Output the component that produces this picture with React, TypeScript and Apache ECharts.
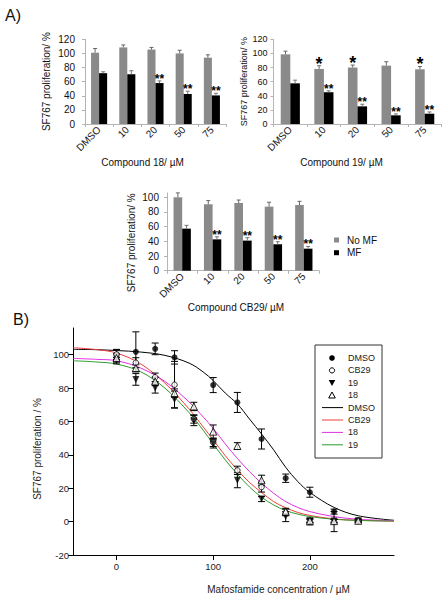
import React, { useEffect, useRef } from 'react';
import * as echarts from 'echarts';

// ---------- Panel A: bar charts ----------
const categories = ['DMSO', '10', '20', '50', '75'];

const c18NoMF = [101, 108.5, 105.5, 100, 94];
const c18NoMFErr = [6, 3.5, 3, 4.5, 4];
const c18MF = [72, 70.5, 58, 42.5, 40.5];
const c18MFErr = [2, 5, 3, 4, 3];
const c18NoMFSig = ['', '', '', '', ''];
const c18MFSig = ['', '', '**', '**', '**'];

const c19NoMF = [98.7, 78, 80, 82.7, 77.5];
const c19NoMFErr = [4.5, 4.5, 3.5, 5.5, 4];
const c19MF = [57.6, 45, 25, 12.3, 14.6];
const c19MFErr = [4.5, 2, 3, 2, 2.5];
const c19NoMFSig = ['', '*', '*', '', '*'];
const c19MFSig = ['', '**', '**', '**', '**'];

const cb29NoMF = [100, 90.5, 92.3, 87.3, 89.5];
const cb29NoMFErr = [6, 5, 4, 6, 5];
const cb29MF = [57.3, 42.7, 41, 36, 30];
const cb29MFErr = [4.5, 3.5, 4, 3.5, 3];
const cb29NoMFSig = ['', '', '', '', ''];
const cb29MFSig = ['', '**', '**', '**', '**'];

const barTicksA = [0, 20, 40, 60, 80, 100, 120];
const barTicksA3 = [0, 20, 40, 60, 80, 100];

// ---------- Panel B: dose response ----------
const doseDMSO = [0, 20, 40, 60, 100, 125, 150, 175, 200, 225, 250];
const viabDMSO = [100, 101.7, 103.5, 98.4, 81.8, 71.4, 49.5, 26, 17.6, 6, 0.6];
const errDMSO = [3, 12, 3.5, 4, 4.5, 6, 6, 2.5, 3, 1.5, 1];

const dose = [0, 20, 40, 60, 80, 100, 125, 150, 175, 200, 225, 250];
const viabCB29 = [100.2, 95.2, 86.5, 82, 61.5, 47.5, 30.7, 20.7, 5.5, 0, 0, 0.5];
const errCB29 = [3, 3, 2.5, 14, 2.5, 2.5, 2.5, 3, 2, 2, 6, 1];
const viab19 = [96.5, 85.2, 80, 73.2, 60.5, 46.6, 24.8, 13.5, 3, 0.5, 0.3, 0.5];
const err19 = [2, 3.5, 3, 5, 3, 2.5, 4.5, 1.5, 3, 1, 1, 0.5];
const viab18 = [98, 92, 84, 77, 69, 53.9, 45.3, 24.8, 6, 0.5, 0.3, 0.5];
const err18 = [2.5, 2, 2.5, 2.5, 2.5, 4, 2, 3, 2, 1, 1, 0.5];

// fitted curves
const fitDose = [-45, -20, 0, 25, 50, 75, 90, 100, 112.5, 125, 137.5, 150, 162.5, 175, 187.5, 200, 225, 250, 287];
const fitDMSO = [103.2, 103, 102.5, 101.6, 99.6, 95, 89.5, 84.5, 77, 70.5, 61.5, 52.5, 43, 32.5, 24, 17.5, 8.5, 3.5, 0.8];
const fitCB29 = [104.2, 103, 101, 94.5, 83, 67.5, 56.5, 49, 39.5, 31, 23.5, 17.5, 12, 8.3, 5.5, 3.7, 1.6, 0.8, 0.3];
const fit18 = [97.8, 97.2, 96.4, 92, 84, 71.7, 62.5, 55.9, 46.5, 37.9, 30, 23, 17, 12, 8.5, 6, 3, 1.4, 0.6];
const fit19 = [96.4, 95.6, 94.4, 89.8, 80, 65.3, 54.5, 46.5, 37, 28.4, 20.8, 14.6, 10, 6.6, 4.5, 3, 1.4, 0.7, 0.3];

const doseTicks = [0, 100, 200];
const viabTicks = [-20, 0, 20, 40, 60, 80, 100];
const legendLabelsB = ['DMSO', 'CB29', '19', '18', 'DMSO', 'CB29', '18', '19'];

const FONT = '"Liberation Sans", Arial, Helvetica, sans-serif';
const GAP = 0.43;
const GRAY = '#8a8a8a';
const AXIS_GRAY = '#b4b4b4';
const LABEL_ROTATE = 45;

function barErrSeries(vals: number[], errs: number[], sigs: string[], side: number, gi: number, color: string, sigSize: number) {
  return {
    type: 'custom',
    xAxisIndex: gi,
    yAxisIndex: gi,
    z: 5,
    silent: true,
    encode: { x: 0, y: 1 },
    data: vals.map((v, i) => [i, v, errs[i]]),
    renderItem: (params: any, api: any) => {
      const i = api.value(0);
      const v = api.value(1);
      const e = api.value(2);
      const base = api.coord([i, v]);
      const top = api.coord([i, v + e]);
      const band = api.size([1, 0])[0];
      const bw = (band * (1 - GAP)) / 2;
      const x = base[0] + (side * bw) / 2;
      const children: any[] = [
        { type: 'line', shape: { x1: x, y1: base[1], x2: x, y2: top[1] }, style: { stroke: color, lineWidth: 1 } },
        { type: 'line', shape: { x1: x - 2, y1: top[1], x2: x + 2, y2: top[1] }, style: { stroke: color, lineWidth: 1 } },
      ];
      const s = sigs[params.dataIndex];
      if (s) {
        children.push({
          type: 'text',
          x: x,
          y: top[1] - 2,
          style: {
            text: s,
            fontSize: sigSize,
            fontWeight: 'bold',
            fontFamily: FONT,
            fill: '#000',
            align: 'center',
            verticalAlign: 'middle',
          },
        });
      }
      return { type: 'group', children };
    },
  };
}

function barSeries(name: string, vals: number[], gi: number, color: string) {
  return {
    type: 'bar',
    name,
    xAxisIndex: gi,
    yAxisIndex: gi,
    data: vals,
    barGap: '0%',
    barCategoryGap: '43%',
    itemStyle: { color },
    silent: true,
  };
}

function catXAxis(gi: number, name: string, nameGap: number, padRight: number) {
  return {
    type: 'category',
    gridIndex: gi,
    data: categories,
    axisLine: { show: true, lineStyle: { color: AXIS_GRAY } },
    axisTick: { show: true, length: 3, lineStyle: { color: AXIS_GRAY } },
    axisLabel: { rotate: LABEL_ROTATE, fontSize: 10, color: '#111', margin: 4, interval: 0, fontFamily: FONT },
    name,
    nameLocation: 'middle',
    nameGap,
    nameTextStyle: { fontSize: 10, color: '#111', fontFamily: FONT, padding: [0, padRight, 0, 0] },
  };
}

function valYAxis(gi: number, max: number, ticks: number[], nameGap: number, labelMargin: number, fs: number, padRight: number) {
  return {
    type: 'value',
    gridIndex: gi,
    min: 0,
    max,
    splitLine: { show: false },
    axisLine: { show: true, lineStyle: { color: AXIS_GRAY } },
    axisTick: { show: true, length: 3, lineStyle: { color: AXIS_GRAY }, customValues: ticks },
    axisLabel: { fontSize: fs, color: '#111', margin: labelMargin, fontFamily: FONT, customValues: ticks },
    name: 'SF767 proliferation/ %',
    nameLocation: 'middle',
    nameGap,
    nameTextStyle: { fontSize: fs, color: '#111', fontFamily: FONT, padding: [0, padRight, 0, 0] },
  };
}

function pointErrSeries(xs: number[], ys: number[], es: number[]) {
  return {
    type: 'custom',
    xAxisIndex: 3,
    yAxisIndex: 3,
    z: 3,
    silent: true,
    encode: { x: 0, y: 1 },
    data: xs.map((x, i) => [x, ys[i], es[i]]),
    renderItem: (params: any, api: any) => {
      const x = api.value(0);
      const y = api.value(1);
      const e = api.value(2);
      const t = api.coord([x, y + e]);
      const b = api.coord([x, y - e]);
      const st = { stroke: '#000', lineWidth: 1 };
      return {
        type: 'group',
        children: [
          { type: 'line', shape: { x1: t[0], y1: t[1], x2: b[0], y2: b[1] }, style: st },
          { type: 'line', shape: { x1: t[0] - 3.5, y1: t[1], x2: t[0] + 3.5, y2: t[1] }, style: st },
          { type: 'line', shape: { x1: b[0] - 3.5, y1: b[1], x2: b[0] + 3.5, y2: b[1] }, style: st },
        ],
      };
    },
  };
}

function fitSeries(name: string, ys: number[], color: string) {
  return {
    type: 'line',
    name,
    xAxisIndex: 3,
    yAxisIndex: 3,
    data: fitDose.map((d, i) => [d, ys[i]]),
    smooth: 0.35,
    symbol: 'none',
    lineStyle: { color, width: 1 },
    z: 2,
    silent: true,
  };
}

function scatterSeries(name: string, xs: number[], ys: number[], symbol: string, filled: boolean, rotate: number, size: number) {
  return {
    type: 'scatter',
    name,
    xAxisIndex: 3,
    yAxisIndex: 3,
    data: xs.map((x, i) => [x, ys[i]]),
    symbol,
    symbolSize: size,
    symbolRotate: rotate,
    itemStyle: filled ? { color: '#000' } : { color: '#fff', borderColor: '#000', borderWidth: 1 },
    z: 4,
    silent: true,
  };
}

function buildLegendB() {
  const els: any[] = [];
  els.push({ type: 'rect', shape: { x: 315, y: 345, width: 67, height: 113 }, style: { fill: '#fff', stroke: '#333', lineWidth: 1 }, z: 10 });
  const y0 = 358;
  const step = 12.4;
  const sx = 332;
  const lineColors = ['#000', '#f03c3c', '#e030e0', '#2e9a2e'];
  for (let k = 0; k < 8; k++) {
    const y = y0 + k * step;
    if (k === 0) els.push({ type: 'circle', shape: { cx: sx, cy: y, r: 2.8 }, style: { fill: '#000' }, z: 11 });
    if (k === 1) els.push({ type: 'circle', shape: { cx: sx, cy: y, r: 2.6 }, style: { fill: '#fff', stroke: '#000', lineWidth: 1 }, z: 11 });
    if (k === 2) els.push({ type: 'polygon', shape: { points: [[sx - 3.3, y - 2.8], [sx + 3.3, y - 2.8], [sx, y + 3.2]] }, style: { fill: '#000' }, z: 11 });
    if (k === 3) els.push({ type: 'polygon', shape: { points: [[sx - 3.3, y + 2.8], [sx + 3.3, y + 2.8], [sx, y - 3.2]] }, style: { fill: '#fff', stroke: '#000', lineWidth: 1 }, z: 11 });
    if (k >= 4) els.push({ type: 'line', shape: { x1: 322, y1: y, x2: 343, y2: y }, style: { stroke: lineColors[k - 4], lineWidth: 1 }, z: 11 });
    els.push({
      type: 'text',
      x: 348,
      y,
      style: { text: legendLabelsB[k], fontSize: 9, fontFamily: FONT, fill: '#222', align: 'left', verticalAlign: 'middle' },
      z: 11,
    });
  }
  return els;
}

function buildOption() {
  return {
    animation: false,
    backgroundColor: '#fff',
    textStyle: { fontFamily: FONT },
    grid: [
      { left: 85, top: 39.3, width: 141, height: 84.7 },
      { left: 273.5, top: 39.3, width: 168, height: 84.7 },
      { left: 167, top: 192.9, width: 152, height: 77.8 },
      { left: 73, top: 328, width: 321, height: 227 },
    ],
    xAxis: [
      catXAxis(0, 'Compound 18/ µM', 33, 26),
      catXAxis(1, 'Compound 19/ µM', 33, 32),
      catXAxis(2, 'Compound CB29/ µM', 25, 14),
      {
        type: 'value',
        gridIndex: 3,
        min: -45,
        max: 287,
        splitLine: { show: false },
        axisLine: { show: true, onZero: false, lineStyle: { color: '#000' } },
        axisTick: { show: true, length: 5, lineStyle: { color: '#000' }, customValues: doseTicks },
        axisLabel: { fontSize: 9.5, color: '#222', margin: 6, fontFamily: FONT, customValues: doseTicks },
        name: 'Mafosfamide concentration / µM',
        nameLocation: 'middle',
        nameGap: 29,
        nameTextStyle: { fontSize: 10, color: '#222', fontFamily: FONT, padding: [0, 0, 0, 90] },
      },
    ],
    yAxis: [
      valYAxis(0, 120, barTicksA, 34, 10, 10, 0),
      valYAxis(1, 120, barTicksA, 20, 6, 9, 0),
      valYAxis(2, 106, barTicksA3, 31, 8, 10, 22),
      {
        type: 'value',
        gridIndex: 3,
        min: -20,
        max: 116,
        splitLine: { show: false },
        axisLine: { show: true, onZero: false, lineStyle: { color: '#000' } },
        axisTick: { show: true, length: 5, lineStyle: { color: '#000' }, customValues: viabTicks },
        axisLabel: { fontSize: 9.5, color: '#222', margin: 4, fontFamily: FONT, customValues: viabTicks },
        name: 'SF767 proliferation / %',
        nameLocation: 'middle',
        nameGap: 25,
        nameTextStyle: { fontSize: 10, color: '#222', fontFamily: FONT, padding: [0, 15, 0, 0] },
      },
    ],
    legend: {
      data: [
        { name: 'No MF', icon: 'rect' },
        { name: 'MF', icon: 'rect' },
      ],
      orient: 'vertical',
      left: 329,
      top: 230,
      itemWidth: 5,
      itemHeight: 5,
      itemGap: 2.7,
      selectedMode: false,
      textStyle: { fontSize: 10, color: '#111', fontFamily: FONT, padding: [0, 0, 0, 3] },
    },
    graphic: {
      elements: [
        { type: 'text', x: 5, y: 15, style: { text: 'A)', fontSize: 16, fontFamily: FONT, fill: '#111', verticalAlign: 'middle' } },
        { type: 'text', x: 13, y: 319.5, style: { text: 'B)', fontSize: 16, fontFamily: FONT, fill: '#111', verticalAlign: 'middle' } },
        ...buildLegendB(),
      ],
    },
    series: [
      barSeries('No MF', c18NoMF, 0, GRAY),
      barSeries('MF', c18MF, 0, '#000'),
      barErrSeries(c18NoMF, c18NoMFErr, c18NoMFSig, -1, 0, '#666', 18),
      barErrSeries(c18MF, c18MFErr, c18MFSig, 1, 0, '#777', 12),

      barSeries('No MF', c19NoMF, 1, GRAY),
      barSeries('MF', c19MF, 1, '#000'),
      barErrSeries(c19NoMF, c19NoMFErr, c19NoMFSig, -1, 1, '#666', 18),
      barErrSeries(c19MF, c19MFErr, c19MFSig, 1, 1, '#777', 12),

      barSeries('No MF', cb29NoMF, 2, GRAY),
      barSeries('MF', cb29MF, 2, '#000'),
      barErrSeries(cb29NoMF, cb29NoMFErr, cb29NoMFSig, -1, 2, '#666', 18),
      barErrSeries(cb29MF, cb29MFErr, cb29MFSig, 1, 2, '#777', 12),

      fitSeries('DMSO fit', fitDMSO, '#000'),
      fitSeries('CB29 fit', fitCB29, '#f03c3c'),
      fitSeries('18 fit', fit18, '#e030e0'),
      fitSeries('19 fit', fit19, '#2e9a2e'),

      pointErrSeries(doseDMSO, viabDMSO, errDMSO),
      pointErrSeries(dose, viabCB29, errCB29),
      pointErrSeries(dose, viab19, err19),
      pointErrSeries(dose, viab18, err18),

      scatterSeries('DMSO', doseDMSO, viabDMSO, 'circle', true, 0, 6),
      scatterSeries('CB29', dose, viabCB29, 'circle', false, 0, 5.5),
      scatterSeries('19', dose, viab19, 'triangle', true, 180, 7),
      scatterSeries('18', dose, viab18, 'triangle', false, 0, 7),
    ],
  };
}

export default function App() {
  const ref = useRef<HTMLDivElement>(null);
  useEffect(() => {
    if (!ref.current) return;
    const chart = echarts.init(ref.current, null, { renderer: 'svg' });
    chart.setOption(buildOption() as any);
    return () => chart.dispose();
  }, []);
  return (
    <div
      ref={ref}
      style={{ position: 'fixed', left: 0, top: 0, width: 448, height: 600, background: '#fff' }}
    />
  );
}
